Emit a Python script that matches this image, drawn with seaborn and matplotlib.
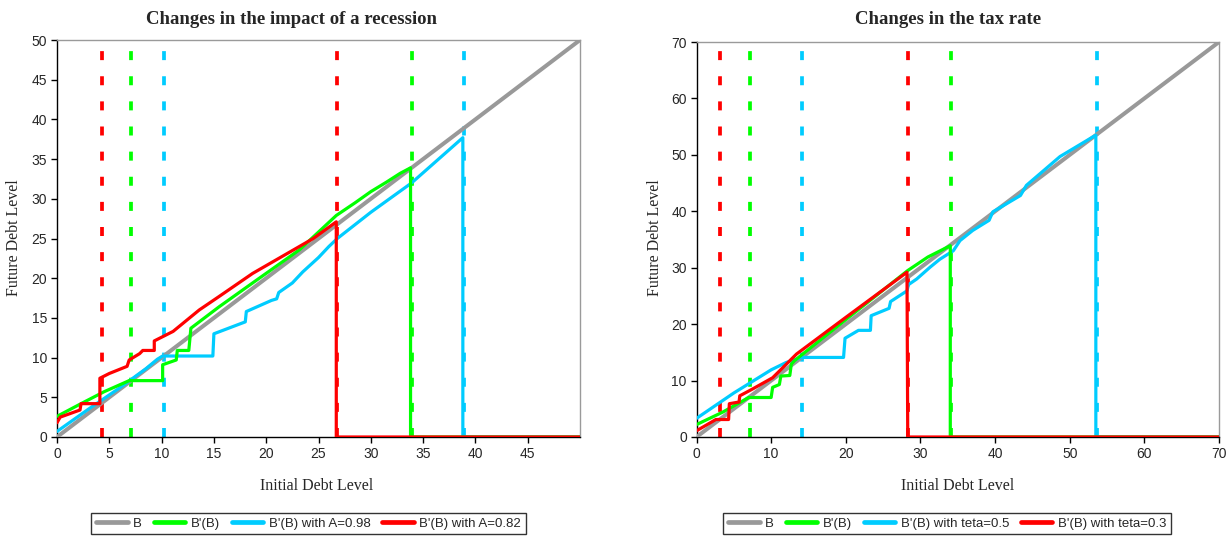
import numpy as np
import pandas as pd
import matplotlib
matplotlib.use("Agg")
import matplotlib.pyplot as plt
from matplotlib.lines import Line2D
import seaborn as sns

# ---------------- data ----------------
# Left panel: changes in the impact of a recession
L_B_x = [0, 50]
L_B_y = [0, 50]
L_green_x = [0, 2.3, 4.5, 6.9, 10.1, 10.1, 11.4, 11.5, 12.6, 12.8, 15.5, 18.7, 23.2, 26.7, 28.5, 30.0, 31.5, 32.8, 33.8, 33.8, 50]
L_green_y = [2.6, 4.2, 5.7, 7.1, 7.1, 9.1, 9.7, 10.9, 10.9, 13.7, 16.4, 19.4, 23.6, 27.9, 29.5, 30.9, 32.1, 33.2, 33.9, 0, 0]
L_cyan_x = [0, 3, 6, 8.5, 9.6, 10.1, 14.9, 15.0, 18.0, 18.1, 20.5, 21.0, 21.2, 22.5, 23.5, 25.0, 26.0, 26.8, 30.0, 33.9, 38.8, 38.8, 50]
L_cyan_y = [0.7, 3.5, 6.2, 8.6, 9.8, 10.2, 10.2, 13.0, 14.5, 15.8, 17.2, 17.4, 18.2, 19.4, 20.8, 22.6, 24.0, 25.0, 28.3, 32.0, 37.7, 0, 0]
L_red_x = [0, 0.3, 2.2, 2.3, 4.1, 4.1, 5.0, 6.7, 6.9, 7.9, 8.2, 9.3, 9.3, 11.1, 13.6, 15.5, 18.7, 24.5, 26.7, 26.7, 50]
L_red_y = [1.8, 2.5, 3.4, 4.2, 4.2, 7.4, 8.0, 8.9, 9.7, 10.5, 10.9, 10.9, 12.1, 13.3, 16.0, 17.7, 20.6, 25.0, 27.1, 0, 0]
L_vlines_red = [4.3, 26.8]
L_vlines_green = [7.1, 33.9]
L_vlines_cyan = [10.2, 38.9]
L_xticks = [0, 5, 10, 15, 20, 25, 30, 35, 40, 45]
L_yticks = [0, 5, 10, 15, 20, 25, 30, 35, 40, 45, 50]

# Right panel: changes in the tax rate
R_B_x = [0, 70]
R_B_y = [0, 70]
R_green_x = [0, 3.5, 7.0, 10.0, 10.2, 11.1, 11.3, 12.5, 12.7, 13.1, 20.0, 28.3, 31.0, 34.0, 34.0, 70]
R_green_y = [2.2, 4.4, 7.0, 7.0, 8.8, 9.3, 10.8, 10.9, 12.9, 13.5, 20.8, 29.5, 31.9, 33.9, 0, 0]
R_cyan_x = [0, 5, 10, 12, 14.1, 19.7, 19.9, 21.7, 23.3, 23.4, 25.8, 26.0, 28.2, 28.4, 29.5, 31.3, 32.6, 34.4, 35.3, 37.0, 39.2, 39.7, 43.4, 44.2, 48.7, 53.5, 53.5, 70]
R_cyan_y = [3.3, 7.8, 11.9, 13.2, 14.1, 14.1, 17.5, 18.9, 18.9, 21.5, 22.8, 24.0, 25.9, 27.0, 28.0, 30.1, 31.5, 33.0, 34.8, 36.6, 38.4, 39.9, 42.8, 44.6, 49.7, 53.5, 0, 0]
R_red_x = [0, 2.6, 4.3, 4.4, 5.7, 5.8, 7.5, 10.2, 13.4, 20.0, 28.2, 28.3, 70]
R_red_y = [1.1, 3.1, 3.1, 5.9, 6.2, 7.3, 8.5, 10.5, 14.7, 21.2, 29.2, 0, 0]
R_vlines_red = [3.2, 28.3]
R_vlines_green = [7.2, 34.1]
R_vlines_cyan = [14.2, 53.6]
R_xticks = [0, 10, 20, 30, 40, 50, 60, 70]
R_yticks = [0, 10, 20, 30, 40, 50, 60, 70]

titles = ["Changes in the impact of a recession", "Changes in the tax rate"]
xlabel = "Initial Debt Level"
ylabel = "Future Debt Level"
L_labels = ["B", "B'(B)", "B'(B) with A=0.98", "B'(B) with A=0.82"]
R_labels = ["B", "B'(B)", "B'(B) with teta=0.5", "B'(B) with teta=0.3"]

# ---------------- style ----------------
sns.set_style("white")
plt.rcParams['font.family'] = ['Liberation Sans', 'DejaVu Sans']

GRAY = "#999999"
GREEN = "#00FF00"
CYAN = "#00CCFF"
RED = "#FF0000"
LW = 2.3

fig = plt.figure(figsize=(12.31, 5.39), dpi=100)
axL = fig.add_axes([57/1231, 1-437/539, (580-57)/1231, (437-40)/539])
axR = fig.add_axes([696.5/1231, 1-437/539, (1219-696.5)/1231, (437-42)/539])


def panel(ax, Bx, By, gx, gy, cx, cy, rx, ry, vr, vg, vc, xmax, ymax, xt, yt):
    for xs, col in ((vr, RED), (vg, GREEN), (vc, CYAN)):
        for xv in xs:
            ax.plot([xv, xv], [0, ymax], color=col, lw=LW + 0.4, ls=(0, (2.4, 4.3)),
                    solid_capstyle='butt', dash_capstyle='butt', zorder=2)
    sns.lineplot(x=Bx, y=By, ax=ax, color=GRAY, lw=LW + 0.6, sort=False, estimator=None, zorder=3)
    sns.lineplot(x=cx, y=cy, ax=ax, color=CYAN, lw=LW, sort=False, estimator=None, zorder=4)
    sns.lineplot(x=gx, y=gy, ax=ax, color=GREEN, lw=LW, sort=False, estimator=None, zorder=5)
    sns.lineplot(x=rx, y=ry, ax=ax, color=RED, lw=LW, sort=False, estimator=None, zorder=6)
    ax.set_xlim(0, xmax)
    ax.set_ylim(0, ymax)
    ax.set_xticks(xt)
    ax.set_yticks(yt)
    ax.set_xlabel("")
    ax.set_ylabel("")
    ax.tick_params(axis='both', which='both', direction='out', length=4, width=1,
                   color='black', labelsize=10, pad=3, bottom=True, left=True)
    for s in ('left', 'bottom'):
        ax.spines[s].set_color('black')
        ax.spines[s].set_linewidth(1.0)
    for s in ('top', 'right'):
        ax.spines[s].set_color('#9a9a9a')
        ax.spines[s].set_linewidth(1.0)
    ax.grid(False)


panel(axL, L_B_x, L_B_y, L_green_x, L_green_y, L_cyan_x, L_cyan_y, L_red_x, L_red_y,
      L_vlines_red, L_vlines_green, L_vlines_cyan, 50, 50, L_xticks, L_yticks)
panel(axR, R_B_x, R_B_y, R_green_x, R_green_y, R_cyan_x, R_cyan_y, R_red_x, R_red_y,
      R_vlines_red, R_vlines_green, R_vlines_cyan, 70, 70, R_xticks, R_yticks)

serif = ['Liberation Serif', 'DejaVu Serif']
fig.text(292/1231, 1-19/539, titles[0], ha='center', va='center', family=serif,
         fontsize=13.5, fontweight='bold')
fig.text(948/1231, 1-19/539, titles[1], ha='center', va='center', family=serif,
         fontsize=13.5, fontweight='bold')
fig.text(317/1231, 1-486/539, xlabel, ha='center', va='center', family=serif, fontsize=11.5)
fig.text(958/1231, 1-486/539, xlabel, ha='center', va='center', family=serif, fontsize=11.5)
fig.text(14/1231, 1-238/539, ylabel, ha='center', va='center', rotation=90, family=serif, fontsize=11.5)
fig.text(655/1231, 1-238/539, ylabel, ha='center', va='center', rotation=90, family=serif, fontsize=11.5)

cols = [GRAY, GREEN, CYAN, RED]
for labels, cx in ((L_labels, 308.5/1231), (R_labels, 947/1231)):
    handles = [Line2D([0], [0], color=c, lw=3.4) for c in cols]
    leg = fig.legend(handles, labels, loc='center', bbox_to_anchor=(cx, 1-523.5/539),
                     ncol=4, frameon=True, fancybox=False, fontsize=9.5,
                     handlelength=2.4, handletextpad=0.4, columnspacing=0.9,
                     borderpad=0.35, borderaxespad=0)
    leg.get_frame().set_edgecolor('black')
    leg.get_frame().set_linewidth(1.0)

fig.savefig("out.png", dpi=100)
